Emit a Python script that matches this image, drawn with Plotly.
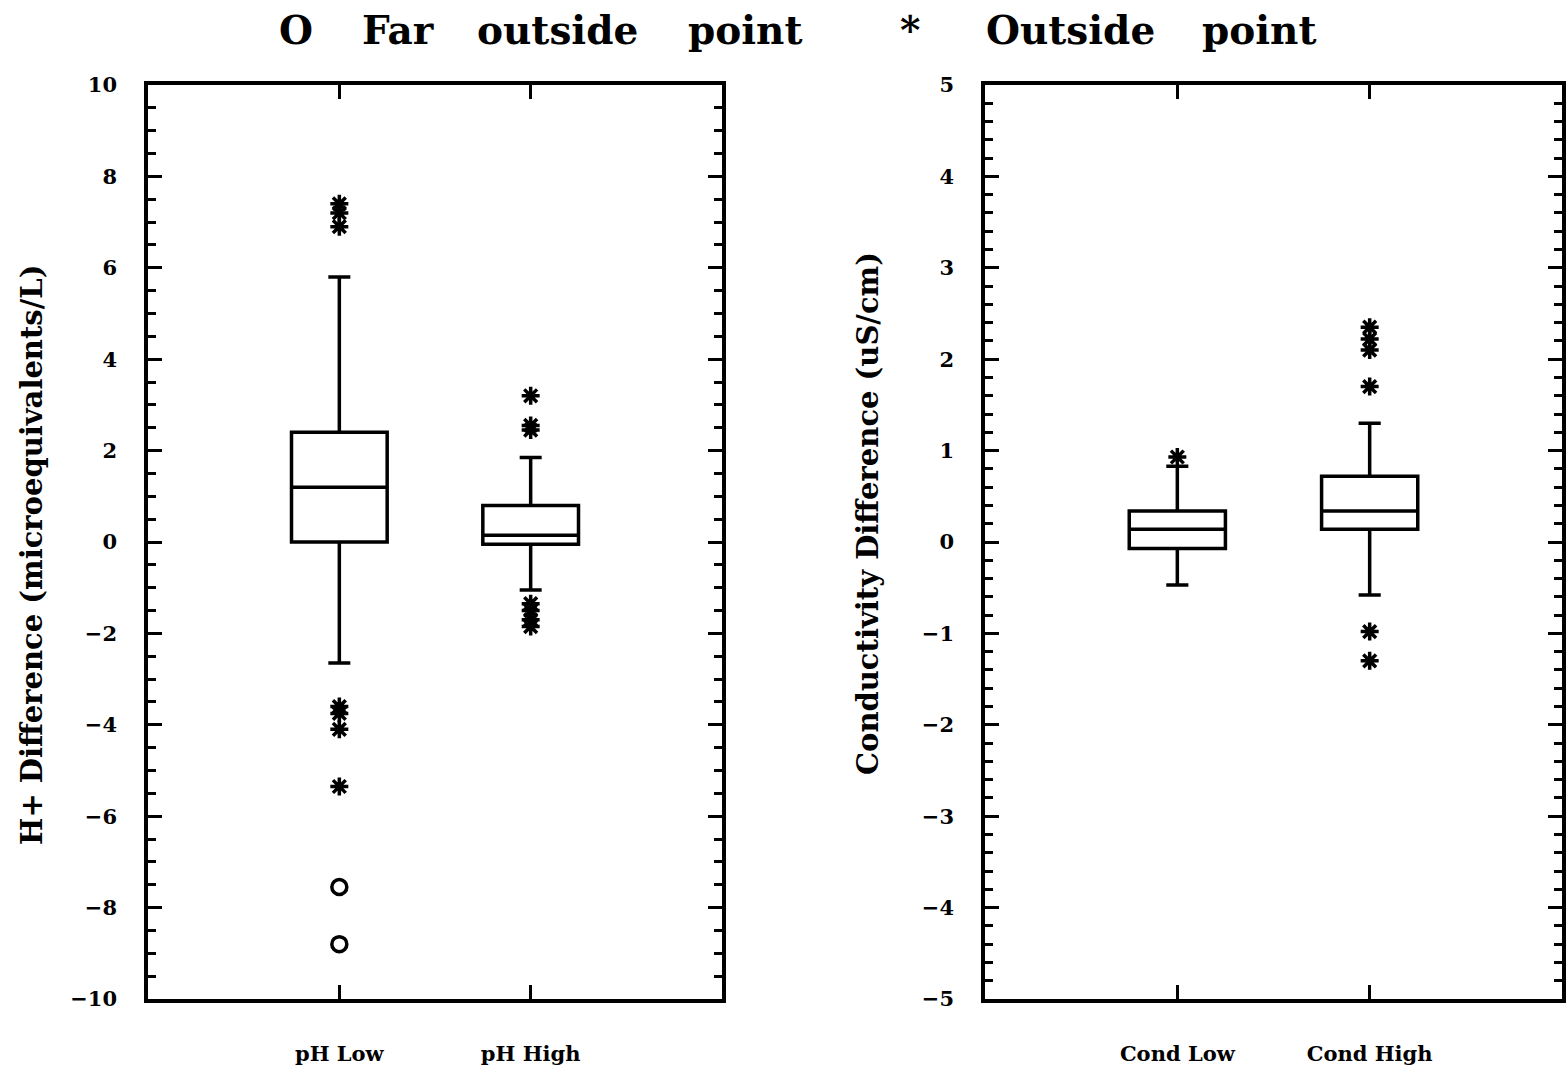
import plotly.graph_objects as go

# ---------------- data ----------------
left_categories = ["pH Low", "pH High"]
left_q1 = [0.0, -0.05]
left_median = [1.2, 0.15]
left_q3 = [2.4, 0.8]
left_lower = [-2.65, -1.05]
left_upper = [5.8, 1.85]
left_outside = [[7.4, 7.2, 6.9, -3.6, -3.75, -4.1, -5.35],
                [3.2, 2.55, 2.45, -1.35, -1.5, -1.7, -1.85]]
left_far = [[-7.55, -8.8], []]

right_categories = ["Cond Low", "Cond High"]
right_q1 = [-0.07, 0.14]
right_median = [0.14, 0.34]
right_q3 = [0.34, 0.72]
right_lower = [-0.47, -0.58]
right_upper = [0.83, 1.3]
right_outside = [[0.93],
                 [2.35, 2.22, 2.1, 1.7, -0.98, -1.3]]
right_far = [[], []]

left_yticks = [-10, -8, -6, -4, -2, 0, 2, 4, 6, 8, 10]
right_yticks = [-5, -4, -3, -2, -1, 0, 1, 2, 3, 4, 5]

legend_words = ["O", "Far", "outside", "point", "*", "Outside", "point"]

FONT = "DejaVu Serif"
BLACK = "black"

W, H = 1566, 1069


def px(x):
    return x / W


def py(y):
    return 1 - y / H


fig = go.Figure()


def add_panel(cats, q1, med, q3, lo, hi, outside, far, xa, ya):
    for i, c in enumerate(cats):
        pos = i + 1
        fig.add_trace(go.Box(
            x=[pos], q1=[q1[i]], median=[med[i]], q3=[q3[i]],
            lowerfence=[lo[i]], upperfence=[hi[i]],
            width=0.5, whiskerwidth=0.23, fillcolor="white",
            line=dict(color=BLACK, width=3.5), boxpoints=False,
            showlegend=False, xaxis=xa, yaxis=ya, name=c,
        ))
        if outside[i]:
            fig.add_trace(go.Scatter(
                x=[pos] * len(outside[i]), y=outside[i], mode="markers",
                marker=dict(symbol="asterisk-open", size=15, color=BLACK,
                            line=dict(color=BLACK, width=3.5)),
                showlegend=False, xaxis=xa, yaxis=ya,
            ))
        if far[i]:
            fig.add_trace(go.Scatter(
                x=[pos] * len(far[i]), y=far[i], mode="markers",
                marker=dict(symbol="circle-open", size=15, color=BLACK,
                            line=dict(color=BLACK, width=3.5)),
                showlegend=False, xaxis=xa, yaxis=ya,
            ))


add_panel(left_categories, left_q1, left_median, left_q3, left_lower,
          left_upper, left_outside, left_far, "x", "y")
add_panel(right_categories, right_q1, right_median, right_q3, right_lower,
          right_upper, right_outside, right_far, "x2", "y2")

tickfont = dict(family=FONT, size=21, color=BLACK, weight="bold")

xcommon = dict(range=[0, 3], tickvals=[1, 2], ticks="inside", ticklen=14,
               tickwidth=3, tickcolor=BLACK, showline=True, linewidth=3.5,
               linecolor=BLACK, mirror="ticks", showgrid=False,
               zeroline=False, automargin=False,
               tickfont=dict(family=FONT, size=21, color=BLACK,
                             weight="bold"),
               ticklabelstandoff=33, fixedrange=True)
ycommon = dict(ticks="inside", ticklen=14, tickwidth=3, tickcolor=BLACK,
               showline=True, linewidth=3.5, linecolor=BLACK, mirror="ticks",
               showgrid=False, zeroline=False, tickfont=tickfont,
               automargin=False, ticklabelstandoff=23, fixedrange=True)

ydom = [py(999), py(85)]

# word positions for the key line at the top (pixel centres)
word_x = [296, 398, 557, 745, 910, 1070, 1259]
annotations = []
for w, xc in zip(legend_words, word_x):
    annotations.append(dict(
        text=w, x=px(xc), y=py(30), xref="paper", yref="paper",
        xanchor="center", yanchor="middle", showarrow=False,
        font=dict(family=FONT, size=39, color=BLACK, weight="bold")))
annotations += [
    dict(text="H+ Difference (microequivalents/L)", x=px(32),
         y=py(555), xref="paper", yref="paper", textangle=-90,
         xanchor="center", yanchor="middle", showarrow=False,
         font=dict(family=FONT, size=29, color=BLACK, weight="bold")),
    dict(text="Conductivity Difference (uS/cm)", x=px(868),
         y=py(514), xref="paper", yref="paper", textangle=-90,
         xanchor="center", yanchor="middle", showarrow=False,
         font=dict(family=FONT, size=29, color=BLACK, weight="bold")),
]

fig.update_layout(
    width=W, height=H,
    margin=dict(l=0, r=0, t=0, b=0, pad=0),
    paper_bgcolor="white", plot_bgcolor="white",
    xaxis=dict(domain=[px(148), px(722)], ticktext=left_categories,
               anchor="y", **xcommon),
    yaxis=dict(domain=ydom, range=[-10, 10],
               tickvals=left_yticks, anchor="x",
               minor=dict(dtick=0.5, ticks="inside", ticklen=8, tickwidth=3,
                          tickcolor=BLACK, showgrid=False),
               **ycommon),
    xaxis2=dict(domain=[px(985), px(1562)], ticktext=right_categories,
                anchor="y2", **xcommon),
    yaxis2=dict(domain=ydom, range=[-5, 5],
                tickvals=right_yticks, anchor="x2",
                minor=dict(dtick=0.2, ticks="inside", ticklen=8, tickwidth=3,
                           tickcolor=BLACK, showgrid=False),
                **ycommon),
    annotations=annotations,
)

fig.write_html(
    "out.html",
    config={"displayModeBar": False},
    post_script="document.body.style.margin='0';"
                "document.body.style.overflow='hidden';",
)
